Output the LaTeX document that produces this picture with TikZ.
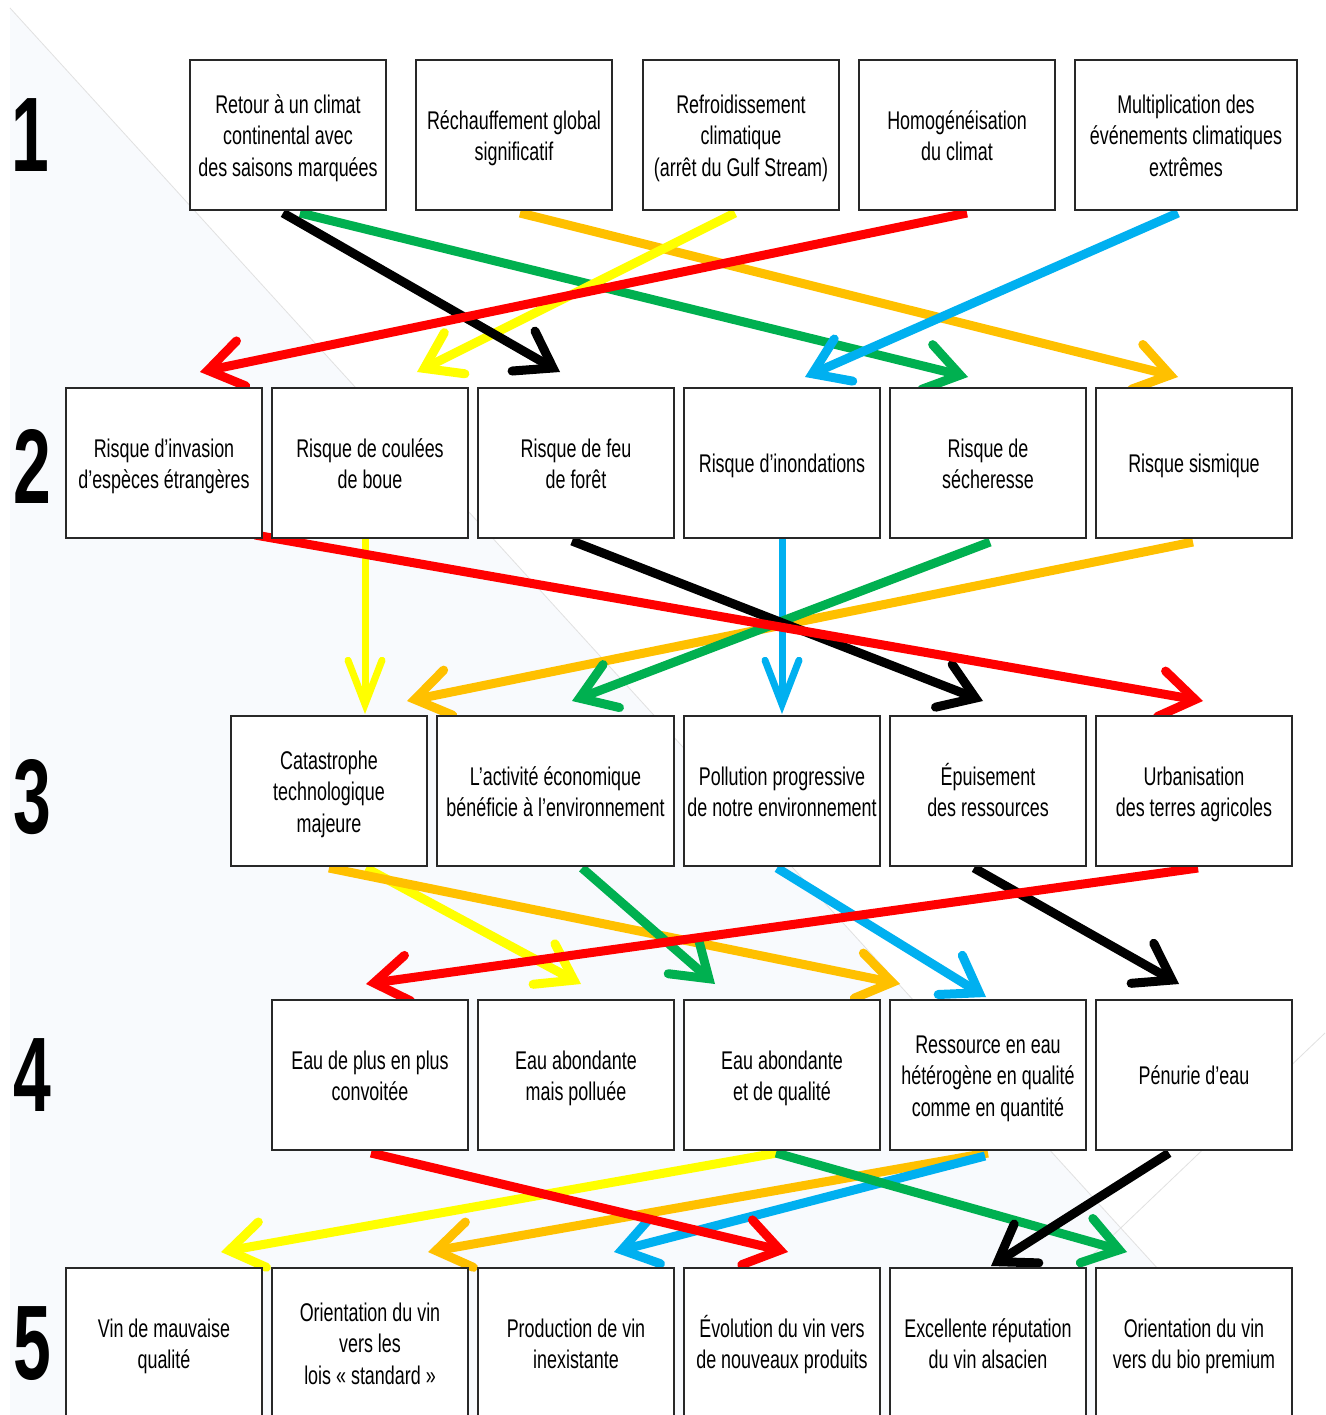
\documentclass[tikz,border=0pt]{standalone}
\usepackage{fontspec}
\setmainfont{Liberation Sans}[FakeStretch=0.7]
\newfontfamily\numfont{Liberation Sans}[FakeStretch=0.64]
\usetikzlibrary{arrows.meta,calc}
\pgfdeclarelayer{bg}
\pgfsetlayers{bg,main}
\definecolor{cred}{RGB}{255,0,0}
\definecolor{cgreen}{RGB}{0,176,80}
\definecolor{corange}{RGB}{255,192,0}
\definecolor{cyellow}{RGB}{255,255,0}
\definecolor{cblue}{RGB}{0,176,240}
\definecolor{boxline}{RGB}{40,40,40}
\definecolor{bgtint}{RGB}{248,250,253}
\definecolor{faint}{RGB}{225,225,225}
\newcommand\bxt[1]{\raisebox{-3.5pt}[\height][\depth]{\begin{tabular}{@{}c@{}}#1\end{tabular}}}
\tikzset{
  box/.style={draw=boxline, line width=2pt, fill=white, minimum width=196pt,
    minimum height=150pt, inner sep=0pt,
    font=\fontsize{25.6pt}{31.5pt}\selectfont},
  num/.style={inner sep=0pt, font=\numfont\fontsize{106pt}{106pt}\selectfont\bfseries},
  conn/.style={line width=9pt,
    -{Straight Barb[length=34pt,width=46pt,line cap=round,line join=miter]}},
  vconn/.style={line width=7pt,
    -{Straight Barb[length=44pt,width=34pt,line cap=round,line join=miter]}}
}
\begin{document}
\begin{tikzpicture}[x=1pt,y=-1pt]
\useasboundingbox (0,0) rectangle (1325,1415);
\begin{pgfonlayer}{bg}
  \fill[white] (0,0) rectangle (1325,1415);
  \fill[bgtint] (10,8) -- (1291,1415) -- (10,1415) -- cycle;
  \draw[faint, line width=0.8pt] (10,8) -- (1291,1415);
  \draw[faint, line width=0.8pt] (1325,1033) -- (1040,1305);
\end{pgfonlayer}

% numbers
\node[num] (n1) at (30,135) {1};
\node[num] (n2) at (32,466) {2};
\node[num] (n3) at (32,797) {3};
\node[num] (n4) at (32,1075) {4};
\node[num] (n5) at (32,1344) {5};

% row 1
\node[box] (r1a) at (288,135) {\bxt{Retour à un climat\\continental avec\\des saisons marquées}};
\node[box] (r1b) at (514,135) {\bxt{Réchauffement global\\significatif}};
\node[box] (r1c) at (741,135) {\bxt{Refroidissement\\climatique\\(arrêt du Gulf Stream)}};
\node[box] (r1d) at (957,135) {\bxt{Homogénéisation\\du climat}};
\node[box, minimum width=222pt] (r1e) at (1186,135) {\bxt{Multiplication des\\événements climatiques\\extrêmes}};

% row 2
\node[box] (r2a) at (164,463) {\bxt{Risque d’invasion\\d’espèces étrangères}};
\node[box] (r2b) at (370,463) {\bxt{Risque de coulées\\de boue}};
\node[box] (r2c) at (576,463) {\bxt{Risque de feu\\de forêt}};
\node[box] (r2d) at (782,463) {\bxt{Risque d’inondations}};
\node[box] (r2e) at (988,463) {\bxt{Risque de\\sécheresse}};
\node[box] (r2f) at (1194,463) {\bxt{Risque sismique}};

% row 3
\node[box] (r3a) at (329,791) {\bxt{Catastrophe\\technologique\\majeure}};
\node[box, minimum width=237pt] (r3b) at (555.5,791) {\bxt{L’activité économique\\bénéficie à l’environnement}};
\node[box] (r3c) at (782,791) {\bxt{Pollution progressive\\de notre environnement}};
\node[box] (r3d) at (988,791) {\bxt{Épuisement\\des ressources}};
\node[box] (r3e) at (1194,791) {\bxt{Urbanisation\\des terres agricoles}};

% row 4
\node[box] (r4a) at (370,1075) {\bxt{Eau de plus en plus\\convoitée}};
\node[box] (r4b) at (576,1075) {\bxt{Eau abondante\\mais polluée}};
\node[box] (r4c) at (782,1075) {\bxt{Eau abondante\\et de qualité}};
\node[box] (r4d) at (988,1075) {\bxt{Ressource en eau\\hétérogène en qualité\\comme en quantité}};
\node[box] (r4e) at (1194,1075) {\bxt{Pénurie d’eau}};

% row 5
\node[box] (r5a) at (164,1343) {\bxt{Vin de mauvaise\\qualité}};
\node[box] (r5b) at (370,1343) {\bxt{Orientation du vin\\vers les\\lois « standard »}};
\node[box] (r5c) at (576,1343) {\bxt{Production de vin\\inexistante}};
\node[box] (r5d) at (782,1343) {\bxt{Évolution du vin vers\\de nouveaux produits}};
\node[box] (r5e) at (988,1343) {\bxt{Excellente réputation\\du vin alsacien}};
\node[box] (r5f) at (1194,1343) {\bxt{Orientation du vin\\vers du bio premium}};

\begin{pgfonlayer}{bg}
% row 1 -> row 2
\draw[conn, cgreen]  ($(r1a.south)+(12,2)$) -- ($(r2e.north)+(-20,-10)$);
\draw[conn, corange] ($(r1b.south)+(6,2)$) -- ($(r2f.north)+(-16,-10)$);
\draw[conn, cyellow] ($(r1c.south)+(-6,2)$) -- ($(r2b.north)+(47,-15)$);
\draw[conn, black]   ($(r1a.south)+(-5,2)$) -- ($(r2c.north)+(-16,-15)$);
\draw[conn, cblue]   ($(r1e.south)+(-8,2)$) -- ($(r2d.north)+(23,-10)$);
\draw[conn, cred]    ($(r1d.south)+(10,2)$) -- ($(r2a.north)+(36,-15)$);
% row 2 -> row 3
\draw[vconn, cyellow] ($(r2b.south)+(-5,0)$) -- ($(r3a.north)+(36,-1)$);
\draw[vconn, cblue]   (r2d.south) -- ($(r3c.north)+(0,-1)$);
\draw[conn, corange] ($(r2f.south)+(-1,3)$) -- ($(r3a.north)+(78,-14)$);
\draw[conn, cgreen]  ($(r2e.south)+(2,3)$) -- ($(r3b.north)+(16.5,-14)$);
\draw[conn, black]   ($(r2c.south)+(-4,2)$) -- ($(r3d.north)+(-5,-14)$);
\draw[conn, cred]    ($(r2a.south)+(91,-4)$) -- ($(r3e.north)+(9,-14)$);
% row 3 -> row 4
\draw[conn, cyellow] ($(r3a.south)+(37,1)$) -- ($(r4b.north)+(5,-15)$);
\draw[conn, corange] ($(r3a.south)+(0,1)$) -- ($(r4d.north)+(-88,-15)$);
\draw[conn, cgreen]  ($(r3b.south)+(26.5,1)$) -- ($(r4c.north)+(-67,-15)$);
\draw[conn, cblue]   ($(r3c.south)+(-5,1)$) -- ($(r4d.north)+(-2,-2)$);
\draw[conn, black]   ($(r3d.south)+(-14,1)$) -- ($(r4e.north)+(-15,-15)$);
\draw[conn, cred]    ($(r3e.south)+(4,1)$) -- ($(r4a.north)+(-4,-15)$);
% row 4 -> row 5
\draw[conn, cyellow] ($(r4c.south)+(-5,2)$) -- ($(r5a.north)+(57,-15)$);
\draw[conn, corange] ($(r4d.south)+(0,2)$) -- ($(r5b.north)+(58,-15)$);
\draw[conn, cblue]   ($(r4d.south)+(-3,5)$) -- ($(r5c.north)+(38,-15)$);
\draw[conn, cred]    ($(r4a.south)+(1,2)$) -- ($(r5d.north)+(6,-15)$);
\draw[conn, cgreen]  ($(r4c.south)+(-6,2)$) -- ($(r5f.north)+(-67,-15)$);
\draw[conn, black]   ($(r4e.south)+(-25,2)$) -- ($(r5e.north)+(3,-1)$);
\end{pgfonlayer}
\end{tikzpicture}
\end{document}
